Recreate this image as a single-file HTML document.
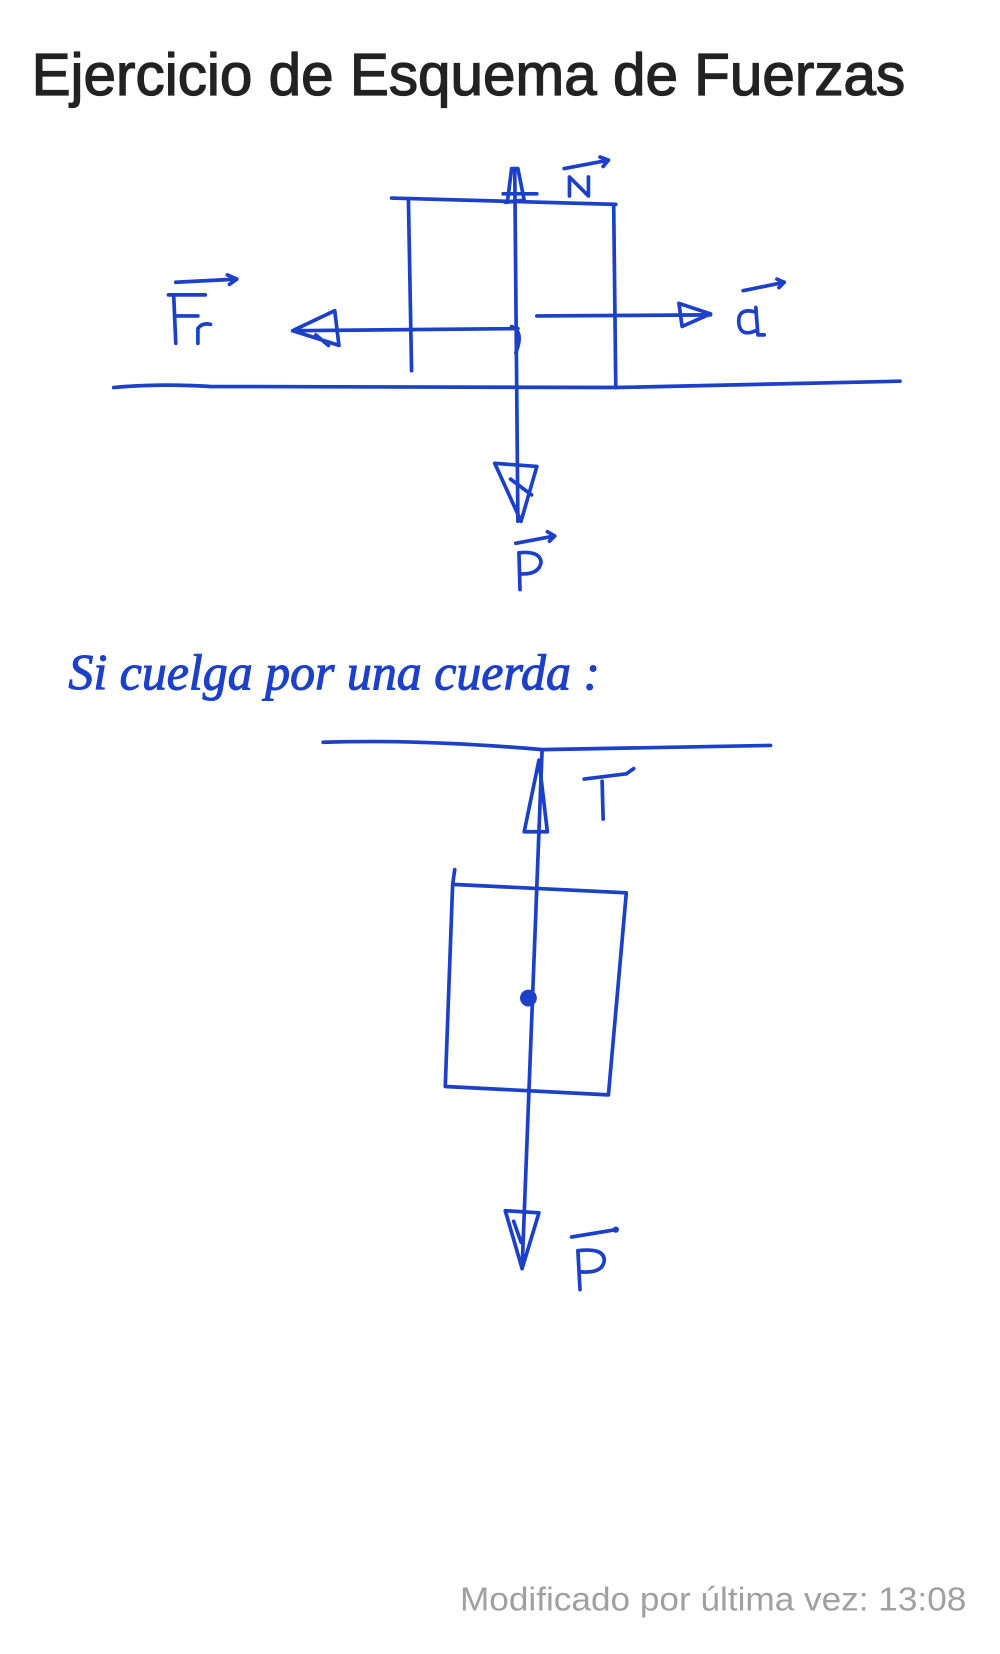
<!DOCTYPE html>
<html><head><meta charset="utf-8"><style>
html,body{margin:0;padding:0;background:#fff;width:1000px;height:1654px;overflow:hidden}
svg{display:block}
</style></head><body>
<svg width="1000" height="1654" viewBox="0 0 950 1571" xmlns="http://www.w3.org/2000/svg">
<text x="30" y="90" font-family="Liberation Sans, sans-serif" font-size="56" fill="#222" stroke="#222" stroke-width="1.2" textLength="830" lengthAdjust="spacingAndGlyphs">Ejercicio de Esquema de Fuerzas</text>
<g stroke="#1c40c8" stroke-width="3.5" fill="none" stroke-linecap="round" stroke-linejoin="round">
<path d="M372 188 L585 194"/>
<path d="M388 190 L391 352"/>
<path d="M583 194 L585 368"/>
<path d="M108 368 Q150 364 200 367 L585 368 L855 362"/>
<path d="M489 160 L492 495"/>
<path d="M482 192 L486 160 L492 160 L498 190 L480 192 Z M478 184 L510 184"/>
<path d="M470 440 L510 443 L495 495 Z M485 455 L505 470"/>
<path d="M492 312 L280 314"/>
<path d="M278 314 L318 295 L322 328 Z M300 318 L312 328"/>
<path d="M510 300 L675 299"/>
<path d="M645 288 L675 298 L648 310 Z"/>
<path d="M486 310 Q498 315 490 335"/>
<path d="M541 186 L541 168 L559 186 L559 168"/>
<path d="M536 160 L578 152 M570 149 L578 152 L573 158"/>
<path d="M167 326 L165 280 M160 280 L195 280 M167 300 L188 300"/>
<path d="M188 326 L188 312 Q192 306 200 308"/>
<path d="M167 268 L225 265 M216 261 L225 265 L218 270"/>
<path d="M717 296 Q700 292 702 308 Q704 320 718 314 M718 292 L720 318 L726 318"/>
<path d="M706 276 L745 268 M738 265 L745 268 L740 273"/>
<path d="M494 560 L493 525 Q513 523 514 534 Q512 546 494 545"/>
<path d="M490 516 L527 509 M520 505 L527 509 L522 514"/>
<path d="M307 705 Q400 702 515 712 L732 708"/>
<path d="M515 712 L496 1205"/>
<path d="M498 790 L512 722 L520 790 Z"/>
<path d="M432 826 L430 840 L595 848 L578 1040 L423 1032 L430 840"/>
<path d="M480 1150 L512 1152 L496 1205 Z M488 1160 L495 1180"/>
<path d="M555 740 L595 735 M602 730 L595 735 M572 742 L573 778"/>
<path d="M551 1225 L549 1188 Q575 1185 574 1198 Q572 1210 551 1208"/>
<path d="M543 1175 L585 1168"/>
</g>
<circle cx="502" cy="948" r="8" fill="#1c40c8"/>
<circle cx="585" cy="1168" r="3" fill="#1c40c8"/>
<text x="65" y="655" font-family="Liberation Serif, serif" font-style="italic" font-size="48" fill="#1c40c8" stroke="#1c40c8" stroke-width="1" textLength="505" lengthAdjust="spacingAndGlyphs">Si cuelga por una cuerda :</text>
<text x="437" y="1530" font-family="Liberation Sans, sans-serif" font-size="32" fill="#a0a0a0" textLength="481" lengthAdjust="spacingAndGlyphs">Modificado por última vez: 13:08</text>
</svg>
</body></html>
